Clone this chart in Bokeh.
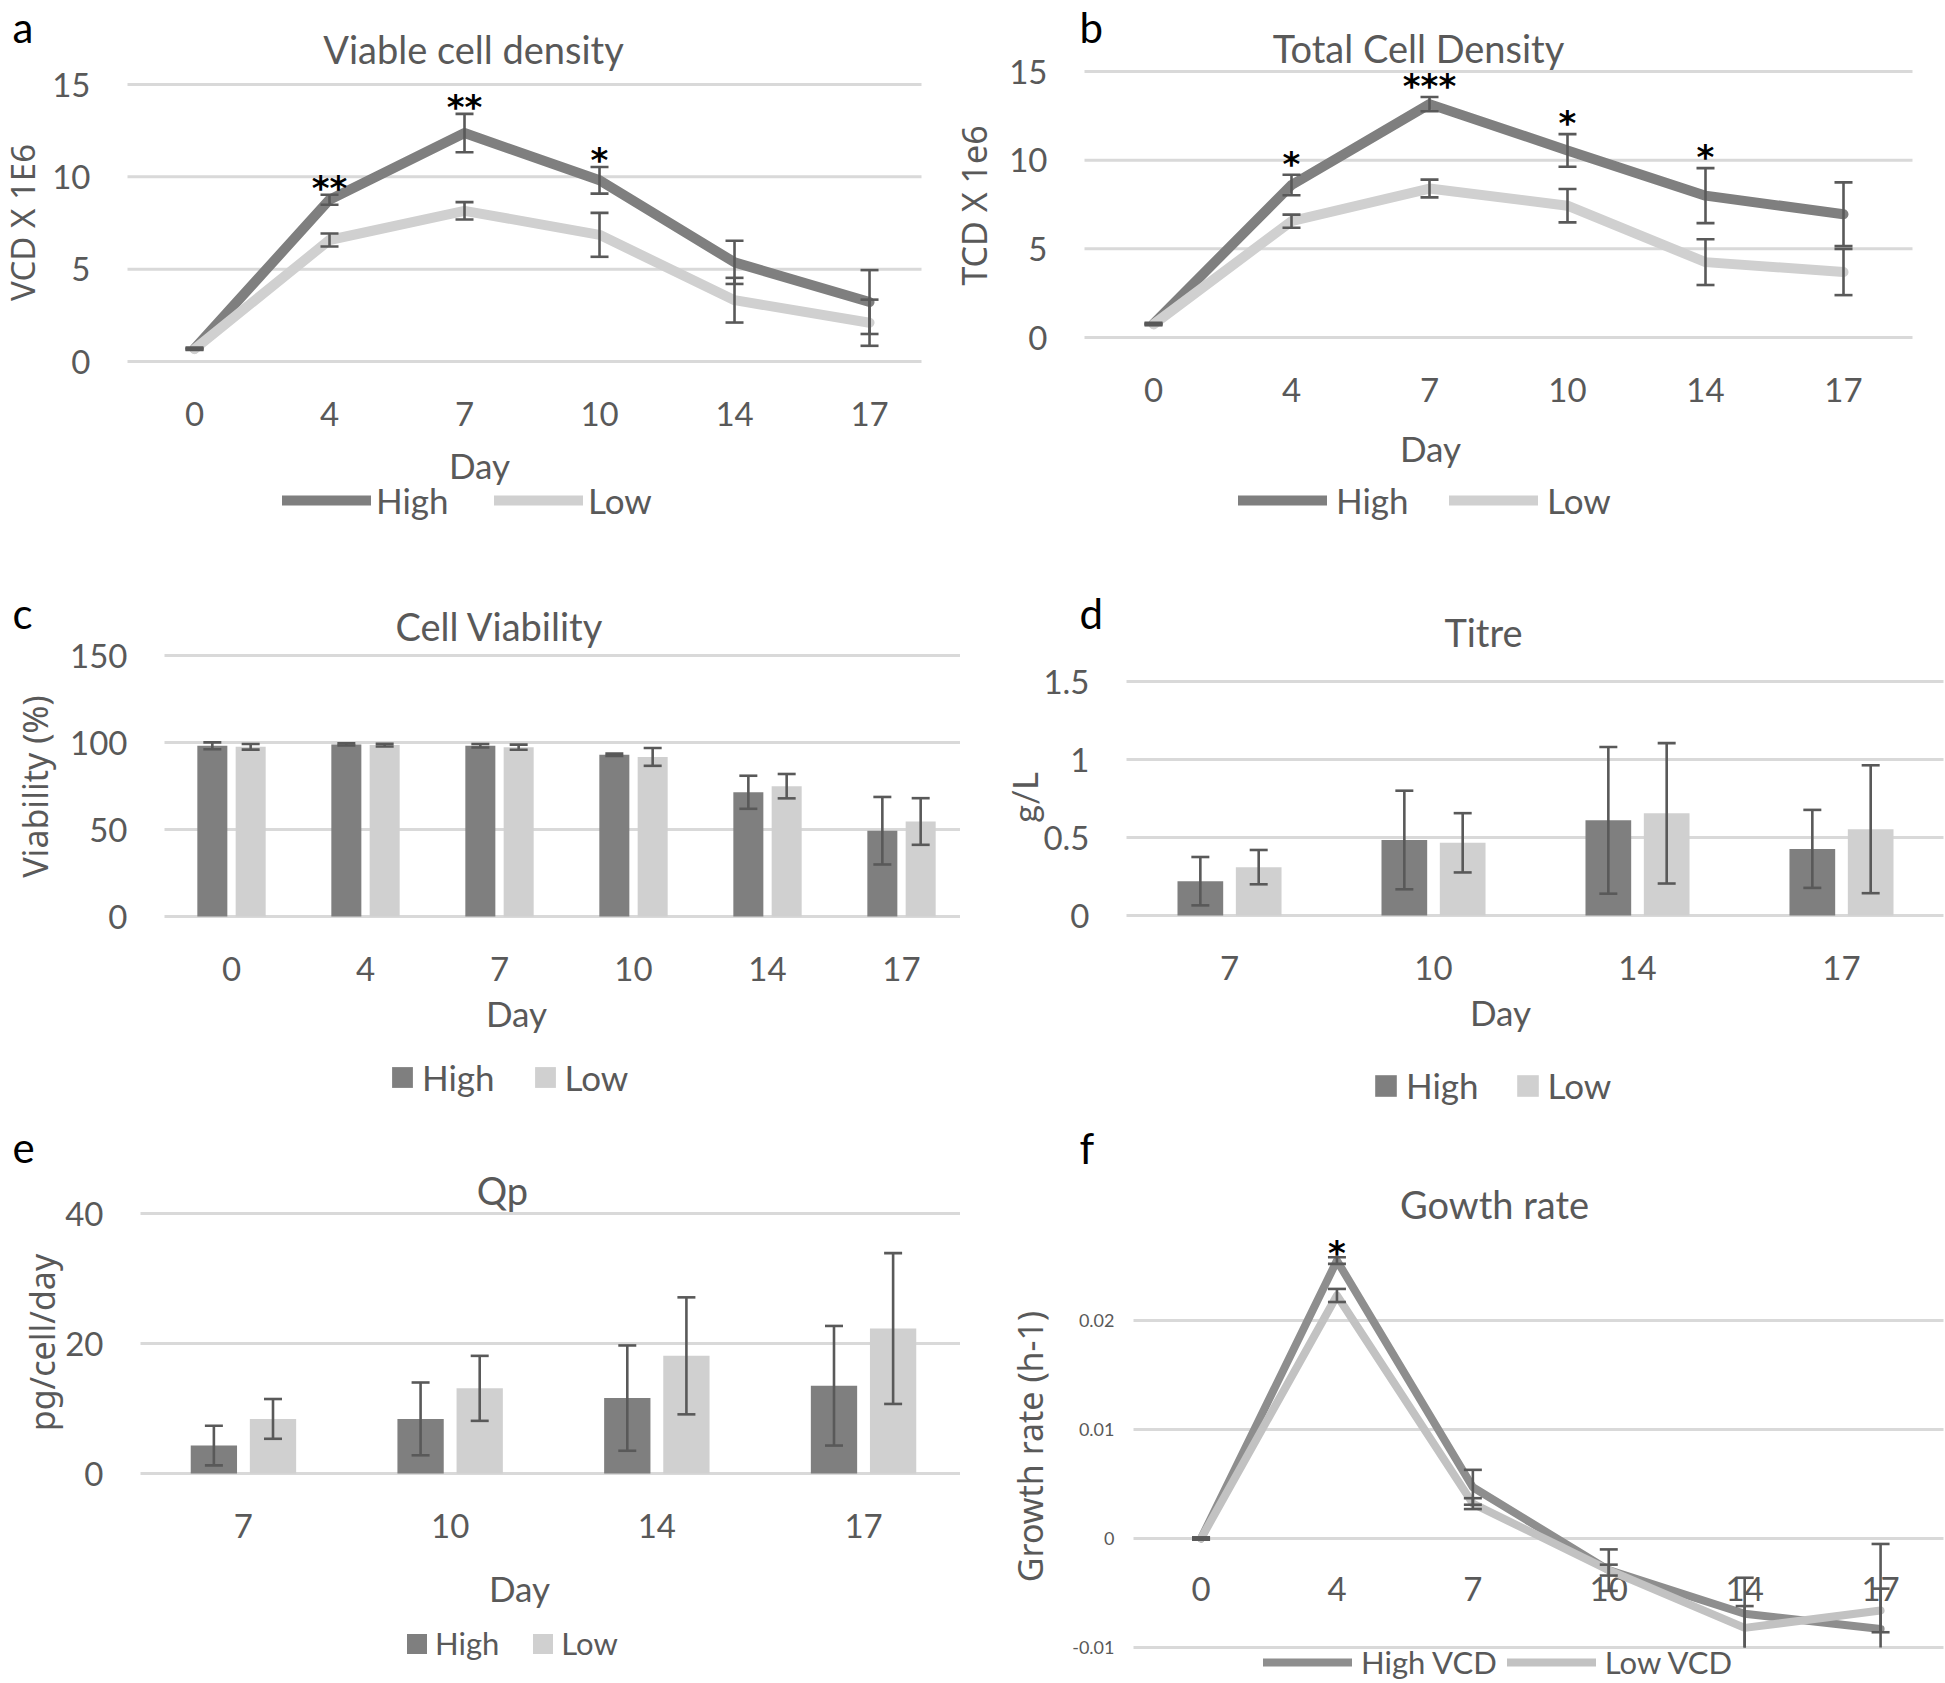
import math
from bokeh.plotting import figure
from bokeh.models import (Range1d, FixedTicker, Label, Legend, LegendItem,
                          NumeralTickFormatter)
from bokeh.layouts import column, row
from bokeh.embed import file_html
from bokeh.resources import INLINE
from bokeh.core.properties import value

# ---------------- data ----------------
days_all = ["0", "4", "7", "10", "14", "17"]
days_prod = ["7", "10", "14", "17"]

vcd_high = [0.70, 8.76, 12.37, 9.81, 5.37, 3.22]
vcd_high_err = [0.05, 0.27, 1.04, 0.72, 1.17, 1.73]
vcd_low = [0.67, 6.58, 8.16, 6.86, 3.32, 2.10]
vcd_low_err = [0.05, 0.35, 0.47, 1.19, 1.21, 1.25]
vcd_sig = ["", "**", "**", "*", "", ""]

tcd_high = [0.78, 8.60, 13.16, 10.55, 8.00, 6.95]
tcd_high_err = [0.05, 0.58, 0.40, 0.92, 1.55, 1.80]
tcd_low = [0.74, 6.56, 8.40, 7.43, 4.25, 3.69]
tcd_low_err = [0.05, 0.37, 0.50, 0.94, 1.29, 1.30]
tcd_sig = ["", "*", "***", "*", "*", ""]

via_high = [98.1, 98.9, 98.1, 92.9, 71.4, 49.3]
via_high_err = [2.0, 0.6, 1.0, 0.7, 9.5, 19.4]
via_low = [97.5, 98.5, 97.3, 91.7, 74.9, 54.6]
via_low_err = [1.6, 0.8, 1.5, 5.1, 7.0, 13.4]

titre_high = [0.22, 0.484, 0.61, 0.427]
titre_high_err = [0.155, 0.316, 0.47, 0.25]
titre_low = [0.31, 0.466, 0.655, 0.553]
titre_low_err = [0.11, 0.19, 0.45, 0.41]

qp_high = [4.3, 8.4, 11.6, 13.5]
qp_high_err = [3.05, 5.6, 8.1, 9.2]
qp_low = [8.4, 13.1, 18.1, 22.3]
qp_low_err = [3.06, 5.0, 9.0, 11.6]

gr_high = [0.0, 0.0255, 0.0047, -0.0029, -0.0069, -0.0083]
gr_high_err = [0.0001, 0.0003, 0.0016, 0.0019, 0.0033, 0.0078]
gr_low = [0.0, 0.0223, 0.0032, -0.0029, -0.0082, -0.0066]
gr_low_err = [0.0001, 0.0006, 0.0005, 0.0005, 0.0020, 0.0020]
gr_sig = ["", "*", "", "", "", ""]

# ---------------- style ----------------
TXT = "#595959"
HIGH = "#7f7f7f"
LOW = "#d0d0d0"
HIGH_F = "#8e8e8e"
LOW_F = "#c2c2c2"
ERR = "#595959"
GRID = "#d9d9d9"
FONT = "Lato"
AXFONT = "Noto Sans"


def make_panel(fig_box, area_box, xr, yr, cats, yticks, yfmt="0",
               ysize="33px", ystandoff=37, xstandoff=40, xaxis_at=None):
    """fig_box / area_box are pixel boxes on the page (left, top, right, bottom).
    The frame fills the figure; axes sit at fixed data locations."""
    fx0, fy0, fx1, fy1 = fig_box
    ax0, ay0, ax1, ay1 = area_box
    sx = (ax1 - ax0) / (xr[1] - xr[0])
    sy = (ay1 - ay0) / (yr[1] - yr[0])
    X0 = xr[0] - (ax0 - fx0) / sx
    X1 = xr[1] + (fx1 - ax1) / sx
    Y0 = yr[0] - (fy1 - ay1) / sy
    Y1 = yr[1] + (ay0 - fy0) / sy
    p = figure(width=fx1 - fx0, height=fy1 - fy0,
               x_range=Range1d(X0, X1), y_range=Range1d(Y0, Y1),
               min_border=0, min_border_left=0, min_border_right=0,
               min_border_top=0, min_border_bottom=0,
               toolbar_location=None, tools="", output_backend="svg")
    p.outline_line_color = None
    p.background_fill_color = "white"
    p.border_fill_color = "white"
    p.grid.visible = False
    # horizontal gridlines across the plot area only
    p.segment(x0=[xr[0]] * len(yticks), x1=[xr[1]] * len(yticks),
              y0=yticks, y1=yticks, line_color=GRID, line_width=3)
    xa = p.xaxis[0]
    xa.fixed_location = yr[0] if xaxis_at is None else xaxis_at
    xa.ticker = FixedTicker(ticks=list(range(len(cats))))
    xa.major_label_overrides = {i: c for i, c in enumerate(cats)}
    xa.axis_line_color = None
    xa.major_tick_line_color = None
    xa.minor_tick_line_color = None
    xa.major_tick_out = 0
    xa.major_tick_in = 0
    xa.major_label_standoff = xstandoff
    xa.major_label_text_font = FONT
    xa.major_label_text_font_size = "33px"
    xa.major_label_text_color = TXT
    ya = p.yaxis[0]
    ya.fixed_location = xr[0]
    ya.ticker = FixedTicker(ticks=yticks)
    ya.formatter = NumeralTickFormatter(format=yfmt)
    ya.axis_line_color = None
    ya.major_tick_line_color = None
    ya.minor_tick_line_color = None
    ya.major_tick_out = 0
    ya.major_tick_in = 0
    ya.major_label_standoff = ystandoff
    ya.major_label_text_font = FONT
    ya.major_label_text_font_size = ysize
    ya.major_label_text_color = TXT

    def at(px, py):
        return X0 + (px - fx0) / sx, Y1 - (py - fy0) / sy

    return p, at, sx


def label(p, at, px, py, text, size="38px", font=FONT, color=TXT,
          align="center", angle=0.0):
    x, y = at(px, py)
    p.add_layout(Label(x=x, y=y, text=text, text_font=font,
                       text_font_size=size, text_color=color,
                       text_align=align, text_baseline="middle",
                       angle=angle))


def errbars(p, xs, vals, errs, cap_half, ymin=None, lw=2.6):
    lo = [v - e for v, e in zip(vals, errs)]
    hi = [v + e for v, e in zip(vals, errs)]
    if ymin is not None:
        keep_lo = [l >= ymin for l in lo]
        lo = [max(l, ymin) for l in lo]
    else:
        keep_lo = [True] * len(lo)
    p.segment(x0=xs, y0=lo, x1=xs, y1=hi, line_color=ERR, line_width=lw)
    p.segment(x0=[x - cap_half for x in xs], y0=hi,
              x1=[x + cap_half for x in xs], y1=hi,
              line_color=ERR, line_width=lw)
    idx = [i for i, k in enumerate(keep_lo) if k]
    p.segment(x0=[xs[i] - cap_half for i in idx], y0=[lo[i] for i in idx],
              x1=[xs[i] + cap_half for i in idx], y1=[lo[i] for i in idx],
              line_color=ERR, line_width=lw)


def stars(p, vals, errs, sig, yoff=-7):
    xs = [i for i, s in enumerate(sig) if s]
    ys = [vals[i] + errs[i] for i in xs]
    ts = [sig[i] for i in xs]
    p.text(x=xs, y=ys, text=ts, text_font=value("DejaVu Sans"),
           text_font_style="bold", text_font_size=value("34px"),
           text_align="center", text_baseline="middle", y_offset=yoff,
           text_color="black")


def line_panel(p, sx, high, herr, low, lerr, sig, hc, lc, lw, yoff, ymin=None):
    xs = list(range(len(high)))
    rh = p.line(xs, high, line_color=hc, line_width=lw,
                line_join="round", line_cap="round")
    rl = p.line(xs, low, line_color=lc, line_width=lw,
                line_join="round", line_cap="round")
    errbars(p, xs, high, herr, 9 / sx, ymin)
    errbars(p, xs, low, lerr, 9 / sx, ymin)
    stars(p, high, herr, sig, yoff)
    return rh, rl


def bar_panel(p, sx, high, herr, low, lerr, off=0.143, w=0.224):
    xh = [i - off for i in range(len(high))]
    xl = [i + off for i in range(len(low))]
    bh = p.vbar(x=xh, top=high, bottom=0, width=w, fill_color=HIGH,
                line_color=None)
    bl = p.vbar(x=xl, top=low, bottom=0, width=w, fill_color=LOW,
                line_color=None)
    errbars(p, xh, high, herr, 9 / sx)
    errbars(p, xl, low, lerr, 9 / sx)
    return bh, bl


def legend(p, rh, rl, names, loc, gw, gh, standoff, lw, spacing, size="35px"):
    lg = Legend(items=[LegendItem(label=names[0], renderers=[rh]),
                       LegendItem(label=names[1], renderers=[rl])],
                orientation="horizontal", location=loc,
                glyph_width=gw, glyph_height=gh, label_height=gh,
                label_standoff=standoff, label_width=lw, spacing=spacing,
                padding=0, margin=0, border_line_color=None,
                background_fill_alpha=0, label_text_font=FONT,
                label_text_font_size=size, label_text_color=TXT,
                label_text_baseline="middle")
    p.add_layout(lg)


# ---------------- panel a ----------------
pA, atA, sxA = make_panel((0, 0, 948, 540), (127, 84, 921, 361),
                          (-0.4963, 5.385), (0, 15), days_all, [0, 5, 10, 15])
rh, rl = line_panel(pA, sxA, vcd_high, vcd_high_err, vcd_low, vcd_low_err,
                    vcd_sig, HIGH, LOW, 10, -7)
legend(pA, rh, rl, ["High", "Low"], (282, 19), 89, 40, 5, 74, 44)
label(pA, atA, 12, 26, "a", size="42px", color="black", align="left")
label(pA, atA, 473, 48, "Viable cell density")
label(pA, atA, 479, 464, "Day", size="35px")
label(pA, atA, 22, 222, "VCD X 1E6", size="33px", font=AXFONT,
      angle=math.pi / 2)

# ---------------- panel b ----------------
pB, atB, sxB = make_panel((948, 0, 1944, 540), (1084, 71, 1912, 337),
                          (-0.5, 5.5), (0, 15), days_all, [0, 5, 10, 15])
rh, rl = line_panel(pB, sxB, tcd_high, tcd_high_err, tcd_low, tcd_low_err,
                    tcd_sig, HIGH, LOW, 10, -11)
legend(pB, rh, rl, ["High", "Low"], (290, 19), 89, 40, 9, 74, 39)
label(pB, atB, 1079, 26, "b", size="42px", color="black", align="left")
label(pB, atB, 1418, 47, "Total Cell Density")
label(pB, atB, 1430, 447, "Day", size="35px")
label(pB, atB, 973, 205, "TCD X 1e6", size="34px", font=AXFONT,
      angle=math.pi / 2)

# ---------------- panel c ----------------
pC, atC, sxC = make_panel((0, 540, 960, 1110), (164, 655, 966, 916),
                          (-0.5, 5.485), (0, 150), days_all, [0, 50, 100, 150])
bh, bl = bar_panel(pC, sxC, via_high, via_high_err, via_low, via_low_err)
legend(pC, bh, bl, ["High", "Low"], (389, 12), 26, 26, 7, 71, 37)
label(pC, atC, 12, 612, "c", size="42px", color="black", align="left")
label(pC, atC, 499, 625, "Cell Viability")
label(pC, atC, 516, 1012, "Day", size="35px")
label(pC, atC, 34, 786, "Viability (%)", size="34px", font=AXFONT,
      angle=math.pi / 2)

# ---------------- panel d ----------------
pD, atD, sxD = make_panel((960, 540, 1944, 1110), (1126, 681, 1943, 915),
                          (-0.505, 3.5), (0, 1.5), days_prod,
                          [0, 0.5, 1, 1.5], yfmt="0.[0]")
bh, bl = bar_panel(pD, sxD, titre_high, titre_high_err, titre_low, titre_low_err)
legend(pD, bh, bl, ["High", "Low"], (412, 4), 27, 27, 7, 72, 35)
label(pD, atD, 1079, 612, "d", size="42px", color="black", align="left")
label(pD, atD, 1483, 631, "Titre")
label(pD, atD, 1500, 1011, "Day", size="35px")
label(pD, atD, 1024, 797, "g/L", size="34px", angle=math.pi / 2)

# ---------------- panel e ----------------
pE, atE, sxE = make_panel((0, 1110, 960, 1682), (140, 1213, 960, 1473),
                          (-0.498, 3.469), (0, 40), days_prod, [0, 20, 40])
bh, bl = bar_panel(pE, sxE, qp_high, qp_high_err, qp_low, qp_low_err)
legend(pE, bh, bl, ["High", "Low"], (404, 20), 25, 25, 6, 63, 31, size="31px")
label(pE, atE, 12, 1147, "e", size="42px", color="black", align="left")
label(pE, atE, 502, 1189, "Qp")
label(pE, atE, 519, 1587, "Day", size="35px")
label(pE, atE, 41, 1342, "pg/cell/day", size="34px", font=AXFONT,
      angle=math.pi / 2)

# ---------------- panel f ----------------
pF, atF, sxF = make_panel((960, 1110, 1944, 1682), (1133, 1225, 1943, 1647),
                          (-0.497, 5.463), (-0.01, 0.02872), days_all,
                          [-0.01, 0, 0.01, 0.02], yfmt="0.[00]",
                          ysize="18px", ystandoff=19, xstandoff=38, xaxis_at=0)
pF.xaxis[0].level = "underlay"
rh, rl = line_panel(pF, sxF, gr_high, gr_high_err, gr_low, gr_low_err,
                    gr_sig, HIGH_F, LOW_F, 8, -4, ymin=-0.01)
legend(pF, rh, rl, ["High VCD", "Low VCD"], (303, 0), 89, 40, 9, 134, 10,
       size="31px")
label(pF, atF, 1079, 1147, "f", size="42px", color="black", align="left")
label(pF, atF, 1494, 1203, "Gowth rate")
label(pF, atF, 1029, 1446, "Growth rate (h-1)", size="34px", font=AXFONT,
      angle=math.pi / 2)

layout = column(row(pA, pB), row(pC, pD), row(pE, pF))
open("out.html", "w").write(file_html(layout, INLINE))
